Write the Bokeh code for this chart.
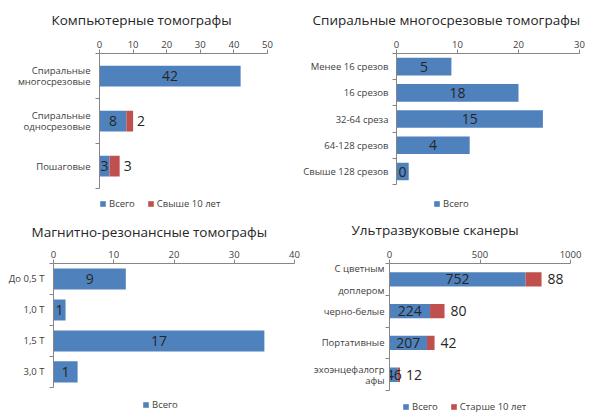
from bokeh.plotting import figure
from bokeh.models import Range1d, FixedTicker, ColumnDataSource, Legend, LegendItem
from bokeh.layouts import row, column
from bokeh.embed import file_html
from bokeh.resources import INLINE
from bokeh.core.properties import value

# ---------------- data ----------------
ct_title = "Компьютерные томографы"
ct_categories = ["Спиральные\nмногосрезовые", "Спиральные\nодносрезовые", "Пошаговые"]
ct_total = [42, 8, 3]
ct_over10 = [0, 2, 3]

msct_title = "Спиральные многосрезовые томографы"
msct_categories = ["Менее 16 срезов", "16 срезов", "32-64 среза", "64-128 срезов", "Свыше 128 срезов"]
msct_bar = [9, 20, 24, 12, 2]
msct_labels = [5, 18, 15, 4, 0]

mri_title = "Магнитно-резонансные томографы"
mri_categories = ["До 0,5 Т", "1,0 Т", "1,5 Т", "3,0 Т"]
mri_bar = [12, 2, 35, 4]
mri_labels = [9, 1, 17, 1]

us_title = "Ультразвуковые сканеры"
us_categories = ["С цветным\n\nдоплером", "черно-белые", "Портативные", "эхоэнцефалогр\nафы"]
us_total = [752, 224, 207, 46]
us_over10 = [88, 80, 42, 12]

legend_total = "Всего"
legend_over10_ct = "Свыше 10 лет"
legend_over10_us = "Старше 10 лет"

# ---------------- style ----------------
FONT = "Open Sans"
BLUE = "#4F81BD"
RED = "#C0504D"
AXIS = "#868686"
TXT = "#404040"
VAL = "#262626"


def base(title, cats, xmax, xstep, w, h, l, r, top, cat_bottom,
         toff, tstand, ystand, lh):
    """top / cat_bottom: pixel rows of the category area inside the figure.
    The frame runs down to the figure bottom so the legend can sit inside it."""
    n = len(cats)
    y_start = n * (h - top) / (cat_bottom - top)
    p = figure(width=w, height=h, x_range=Range1d(0, xmax), y_range=Range1d(y_start, 0),
               x_axis_location="above", toolbar_location=None, output_backend="svg",
               min_border_left=l, min_border_right=r, min_border_top=top,
               min_border_bottom=0, title=title)
    p.title.text_font = FONT
    p.title.text_font_size = "13.5px"
    p.title.text_font_style = "normal"
    p.title.text_color = "#262626"
    p.title.align = "left"
    p.title.offset = toff
    p.title.standoff = tstand
    p.xgrid.visible = False
    p.ygrid.visible = False
    p.outline_line_color = None
    p.background_fill_color = "white"
    p.border_fill_color = "white"

    xa = p.xaxis[0]
    xa.ticker = FixedTicker(ticks=list(range(0, xmax + 1, xstep)))
    xa.axis_line_color = AXIS
    xa.major_tick_line_color = AXIS
    xa.major_tick_out = 4
    xa.major_tick_in = 0
    xa.minor_tick_out = 0
    xa.minor_tick_in = 0
    xa.major_label_standoff = 2
    xa.major_label_text_font = FONT
    xa.major_label_text_font_size = "9.5px"
    xa.major_label_text_color = TXT

    ya = p.yaxis[0]
    centers = [i + 0.5 for i in range(n)]
    ya.ticker = FixedTicker(ticks=centers, minor_ticks=list(range(n + 1)))
    ya.major_label_overrides = {c: cat for c, cat in zip(centers, cats)}
    ya.bounds = (0, n)
    ya.axis_line_color = AXIS
    ya.major_tick_out = 0
    ya.major_tick_in = 0
    ya.minor_tick_out = 4
    ya.minor_tick_in = 0
    ya.minor_tick_line_color = AXIS
    ya.major_label_standoff = ystand
    ya.major_label_text_font = FONT
    ya.major_label_text_font_size = "9.5px"
    ya.major_label_text_color = TXT
    ya.major_label_text_line_height = lh
    return p, centers


def add_legend(p, items, loc):
    lg = Legend(items=items, location=loc, orientation="horizontal",
                glyph_width=7, glyph_height=7, label_standoff=3, spacing=12,
                padding=0, margin=0, border_line_color=None,
                background_fill_alpha=0, label_height=10, label_width=10,
                label_text_font=FONT, label_text_font_size="9.5px",
                label_text_color=TXT)
    p.add_layout(lg, "center")


def values_text(p, xs, ys, texts, align, xoff=0):
    src = ColumnDataSource(dict(x=xs, y=ys, t=texts))
    p.text(x="x", y="y", text="t", source=src, text_font=value(FONT),
           text_font_size="14px", text_color=VAL, text_align=align,
           text_baseline="middle", x_offset=xoff)


# ---------- chart 1 ----------
p1, c1 = base(ct_title, ct_categories, 50, 10, 295, 210, 99, 28, 52, 188, -48, 17, 5, 0.9)
left_red = list(ct_total)
right_red = [a + b for a, b in zip(ct_total, ct_over10)]
r1a = p1.hbar(y=c1, left=0, right=ct_total, height=0.46, fill_color=BLUE, line_color=None)
r1b = p1.hbar(y=c1, left=left_red, right=right_red, height=0.46, fill_color=RED, line_color=None)
values_text(p1, [v / 2 for v in ct_total], c1, [str(v) for v in ct_total], "center")
idx = [i for i, v in enumerate(ct_over10) if v > 0]
values_text(p1, [right_red[i] for i in idx], [c1[i] for i in idx],
            [str(ct_over10[i]) for i in idx], "left", 4)
add_legend(p1, [LegendItem(label=legend_total, renderers=[r1a]),
                LegendItem(label=legend_over10_ct, renderers=[r1b])], (0, 0))

# ---------- chart 2 ----------
p2, c2 = base(msct_title, msct_categories, 30, 10, 294, 210, 101, 10, 52, 184, -84, 17, 4, 0.9)
r2 = p2.hbar(y=c2, left=0, right=msct_bar, height=0.67, fill_color=BLUE, line_color=None)
values_text(p2, [v / 2 for v in msct_bar], c2, [str(v) for v in msct_labels], "center")
add_legend(p2, [LegendItem(label=legend_total, renderers=[r2])], (37, 0))

# ---------- chart 3 ----------
p3, c3 = base(mri_title, mri_categories, 40, 10, 302, 203, 53, 8, 48, 176, -22, 13, 5, 0.9)
r3 = p3.hbar(y=c3, left=0, right=mri_bar, height=0.68, fill_color=BLUE, line_color=None)
values_text(p3, [v / 2 for v in mri_bar], c3, [str(v) for v in mri_labels], "center")
add_legend(p3, [LegendItem(label=legend_total, renderers=[r3])], (89, 2))

# ---------- chart 4 ----------
p4, c4 = base(us_title, us_categories, 1000, 500, 287, 203, 87, 19, 52, 180, -38, 17, 1, 0.85)
u_right = [a + b for a, b in zip(us_total, us_over10)]
r4a = p4.hbar(y=c4, left=0, right=us_total, height=0.45, fill_color=BLUE, line_color=None)
r4b = p4.hbar(y=c4, left=us_total, right=u_right, height=0.45, fill_color=RED, line_color=None)
values_text(p4, [v / 2 for v in us_total], c4, [str(v) for v in us_total], "center")
values_text(p4, u_right, c4, [str(v) for v in us_over10], "left", 6)
add_legend(p4, [LegendItem(label=legend_total, renderers=[r4a]),
                LegendItem(label=legend_over10_us, renderers=[r4b])], (13, 0))

layout = column(row(p1, p2), row(p3, p4))
open("out.html", "w").write(file_html(layout, INLINE))
